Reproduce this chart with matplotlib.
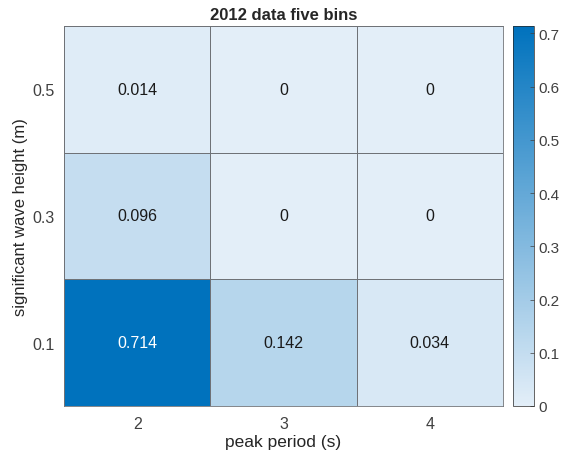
import numpy as np
import matplotlib
matplotlib.use("Agg")
import matplotlib.pyplot as plt
from matplotlib.colors import LinearSegmentedColormap

plt.rcParams["font.family"] = ["Liberation Sans", "DejaVu Sans"]

periods = ["2", "3", "4"]
heights = ["0.5", "0.3", "0.1"]
# rows top to bottom: 0.5, 0.3, 0.1
values = np.array([
    [0.014, 0.0, 0.0],
    [0.096, 0.0, 0.0],
    [0.714, 0.142, 0.034],
])
labels = [
    ["0.014", "0", "0"],
    ["0.096", "0", "0"],
    ["0.714", "0.142", "0.034"],
]

cmap = LinearSegmentedColormap.from_list("mblue", ["#E3EEF8", "#0072BD"])

fig = plt.figure(figsize=(5.66, 4.56), dpi=100)
ax = fig.add_axes([64 / 566, 1 - 407 / 456, 439 / 566, 380 / 456])
cax = fig.add_axes([513 / 566, 1 - 407 / 456, 21 / 566, 380 / 456])

vmin, vmax = 0, values.max()
im = ax.pcolormesh(values[::-1], cmap=cmap, vmin=vmin, vmax=vmax,
                   edgecolor="#6F7277", linewidth=0.5)
ax.set_xlim(0, 3)
ax.set_ylim(0, 3)
ax.set_xticks(np.arange(3) + 0.5)
ax.set_xticklabels(periods)
ax.set_yticks(np.arange(3) + 0.5)
ax.set_yticklabels(heights[::-1])
ax.tick_params(length=0, labelsize=11.5, colors="#404040", pad=7)
for s in ax.spines.values():
    s.set_color("#6F7277")
    s.set_linewidth(0.6)

for i in range(3):
    for j in range(3):
        v = values[i, j]
        color = "white" if v > 0.5 * vmax else "#1a1a1a"
        ax.text(j + 0.5, 2 - i + 0.5, labels[i][j], ha="center", va="center",
                fontsize=11.5, color=color)

ax.set_xlabel("peak period (s)", fontsize=12.5, color="#262626", labelpad=2)
ax.set_ylabel("significant wave height (m)", fontsize=12, color="#262626", labelpad=3)
ax.set_title("2012 data five bins", fontsize=12, fontweight="bold", color="#262626", pad=5)

cb = fig.colorbar(im, cax=cax)
cb.set_ticks([0, 0.1, 0.2, 0.3, 0.4, 0.5, 0.6, 0.7])
cb.set_ticklabels(["0", "0.1", "0.2", "0.3", "0.4", "0.5", "0.6", "0.7"])
cb.ax.tick_params(direction="in", length=3, labelsize=11, colors="#404040", width=0.5, pad=3)
cb.outline.set_edgecolor("#262626")
cb.outline.set_linewidth(0.5)

fig.savefig("out.png", dpi=100)
